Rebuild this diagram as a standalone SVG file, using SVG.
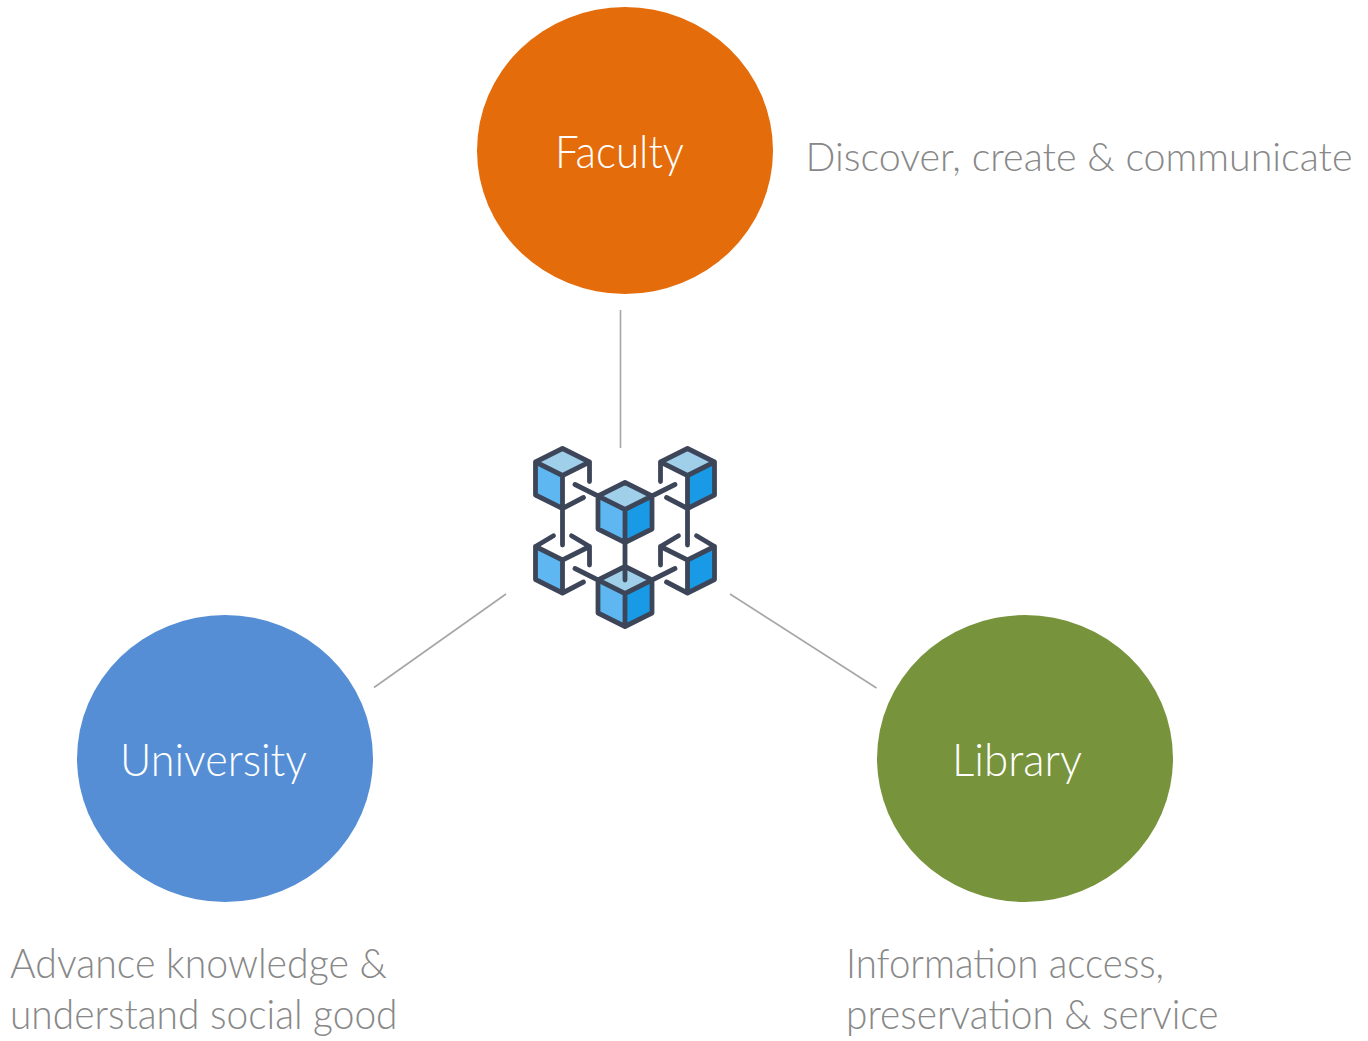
<svg xmlns="http://www.w3.org/2000/svg" width="1368" height="1041" viewBox="0 0 1368 1041">
<style>
text{font-family:"Lato","Open Sans","Liberation Sans",sans-serif;font-weight:300}
.n{font-size:46px;fill:#fff}
.d{font-size:42px;fill:#888}
.f{font-size:40px}
.c{stroke:#a6a6a6;stroke-width:1.6;fill:none}
.o{fill:none;stroke:#3d4559;stroke-width:4.8;stroke-linecap:round;stroke-linejoin:round}
.t{fill:#9fcfe9}.l{fill:#5eb7f1}.r{fill:#189ae6}
</style>
<defs>
<g id="top"><path class="t" d="M0 0L27 13.500L0 27L-27 13.500Z"/></g>
<g id="left"><path class="l" d="M-27 13.500L0 27V60L-27 46.500Z"/></g>
<g id="right"><path class="r" d="M27 13.500L0 27V60L27 46.500Z"/></g>
</defs>
<rect width="1368" height="1041" fill="#fff"/>
<g id="connectors">
<path class="c" d="M620.500 310V448"/>
<path class="c" d="M506 594L374 687.500"/>
<path class="c" d="M730 594L876.500 688"/>
</g>
<g id="faculty"><ellipse cx="625" cy="150.500" rx="148" ry="143.500" fill="#e46c0a"/><text class="n" x="555" y="167.500" textLength="129" lengthAdjust="spacingAndGlyphs">Faculty</text></g>
<g id="university"><ellipse cx="225" cy="758.500" rx="148" ry="143.500" fill="#558ed5"/><text class="n" x="120" y="775.500" textLength="187" lengthAdjust="spacingAndGlyphs">University</text></g>
<g id="library"><ellipse cx="1025" cy="758.500" rx="148" ry="143.500" fill="#77933c"/><text class="n" x="952" y="775.500" textLength="130" lengthAdjust="spacingAndGlyphs">Library</text></g>
<g id="faculty-note"><text class="d f" x="805.500" y="171" textLength="547" lengthAdjust="spacingAndGlyphs">Discover, create &amp; communicate</text></g>
<g id="university-note"><text class="d" x="10" y="978" textLength="377" lengthAdjust="spacingAndGlyphs">Advance knowledge &amp;</text><text class="d" x="10" y="1029" textLength="387.500" lengthAdjust="spacingAndGlyphs">understand social good</text></g>
<g id="library-note"><text class="d" x="846" y="978" textLength="318" lengthAdjust="spacingAndGlyphs">Information access,</text><text class="d" x="846" y="1029" textLength="372.500" lengthAdjust="spacingAndGlyphs">preservation &amp; service</text></g>
<g id="blockchain">
<g transform="translate(562.500 448.500)"><use href="#top"/><use href="#left"/><path class="o" d="M27 33V13.500L0 0L-27 13.500V46.500L0 60L21 49M-27 13.500L0 27L27 13.500M0 27V96.500"/></g>
<g transform="translate(687.500 448.500)"><use href="#top"/><use href="#right"/><path class="o" d="M-27 33V13.500L0 0L27 13.500V46.500L0 60L-21 49M-27 13.500L0 27L27 13.500M0 27V96.500"/></g>
<g transform="translate(562.500 533)"><use href="#left"/><path class="o" d="M-9 2.700L-27 13.500L0 27L27 13.500L9 2.700M27 13.500V32M-27 13.500V46.500L0 60L21 49M0 27V60"/></g>
<g transform="translate(687.500 533)"><use href="#right"/><path class="o" d="M9 2.700L27 13.500L0 27L-27 13.500L-9 2.700M-27 13.500V32M27 13.500V46.500L0 60L-21 49M0 27V60"/></g>
<g transform="translate(625 566.500)"><use href="#top"/><use href="#left"/><use href="#right"/><path class="o" d="M0 0L27 13.500V46.500L0 60L-27 46.500V13.500ZM-27 13.500L0 27L27 13.500M0 27V60M-27 13.500L-50 2M27 13.500L50 2M0 -24V13.500"/></g>
<g transform="translate(625 482.500)"><use href="#top"/><use href="#left"/><use href="#right"/><path class="o" d="M0 0L27 13.500V46.500L0 60L-27 46.500V13.500ZM-27 13.500L0 27L27 13.500M0 27V60M-27 13.500L-50 2M27 13.500L50 2"/></g>
</g>
</svg>
